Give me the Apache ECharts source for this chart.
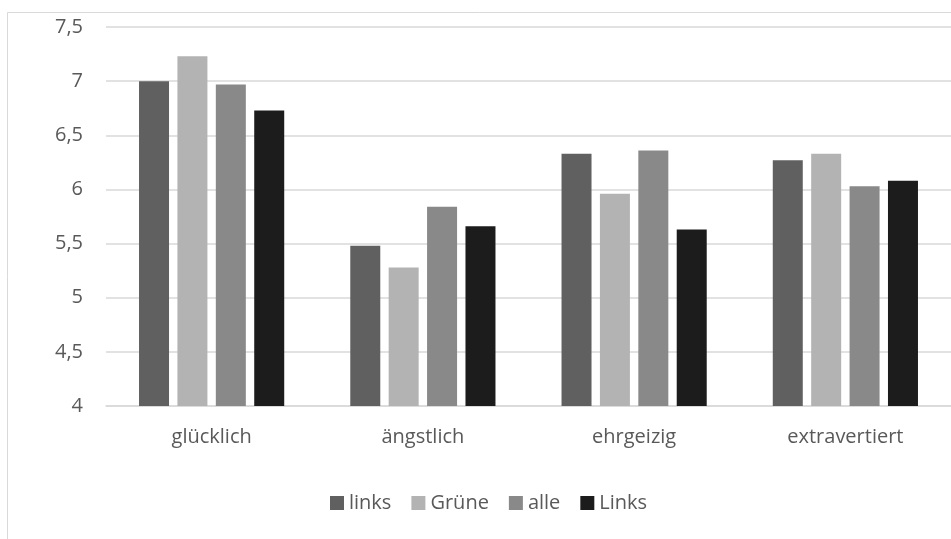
<!DOCTYPE html>
<html>
<head>
<meta charset="utf-8">
<script src="https://cdn.jsdelivr.net/npm/echarts@6/dist/echarts.min.js"></script>
<style>
  html, body { margin: 0; padding: 0; background: #ffffff; }
  #chart { width: 951px; height: 539px; }
</style>
</head>
<body>
<div id="chart"></div>
<script>
// Mean scores per trait, grouped by party / sample
const categories = ['glücklich', 'ängstlich', 'ehrgeizig', 'extravertiert'];
const seriesNames = ['links', 'Grüne', 'alle', 'Links'];
const linksValues = [7.00, 5.48, 6.33, 6.27];
const grueneValues = [7.23, 5.28, 5.96, 6.33];
const alleValues = [6.97, 5.84, 6.36, 6.03];
const linksParteiValues = [6.73, 5.66, 5.63, 6.08];
const yTicks = [4, 4.5, 5, 5.5, 6, 6.5, 7, 7.5];

const colors = ['#606060', '#b3b3b3', '#898989', '#1c1c1c'];
const allValues = [linksValues, grueneValues, alleValues, linksParteiValues];

const textColor = '#595959';
const fontFamily = '"Open Sans", "Noto Sans", sans-serif';
const fontSize = 20;

const chart = echarts.init(document.getElementById('chart'), null, { renderer: 'canvas' });

chart.setOption({
  animation: false,
  backgroundColor: '#ffffff',
  color: colors,
  graphic: [{
    type: 'rect',
    silent: true,
    z: -10,
    shape: { x: 7.5, y: 12.5, width: 980, height: 560 },
    style: { fill: 'none', stroke: '#d9d9d9', lineWidth: 1 }
  }],
  grid: {
    left: 106,
    top: 27,
    width: 858,
    bottom: 133,
    containLabel: false
  },
  legend: {
    data: seriesNames,
    left: 325,
    top: 488,
    itemWidth: 14,
    itemHeight: 14,
    itemGap: 20,
    icon: 'rect',
    textStyle: { color: textColor, fontSize: fontSize, fontFamily: fontFamily }
  },
  xAxis: {
    type: 'category',
    data: categories,
    axisLine: { show: true, lineStyle: { color: '#d9d9d9', width: 1.5 } },
    axisTick: { show: false },
    axisLabel: { color: textColor, fontSize: fontSize, fontFamily: fontFamily, margin: 21 }
  },
  yAxis: {
    type: 'value',
    min: 4,
    max: 7.5,
    interval: 0.5,
    axisLine: { show: false },
    axisTick: { show: false },
    splitLine: { lineStyle: { color: '#d9d9d9', width: 1.5 } },
    axisLabel: {
      color: textColor,
      fontSize: fontSize,
      fontFamily: fontFamily,
      margin: 23,
      formatter: v => yTicks.includes(v) ? String(v).replace('.', ',') : ''
    }
  },
  series: seriesNames.map((name, i) => ({
    name: name,
    type: 'bar',
    data: allValues[i],
    barWidth: 30,
    barGap: '28%',
    itemStyle: { color: colors[i] }
  }))
});
</script>
</body>
</html>
